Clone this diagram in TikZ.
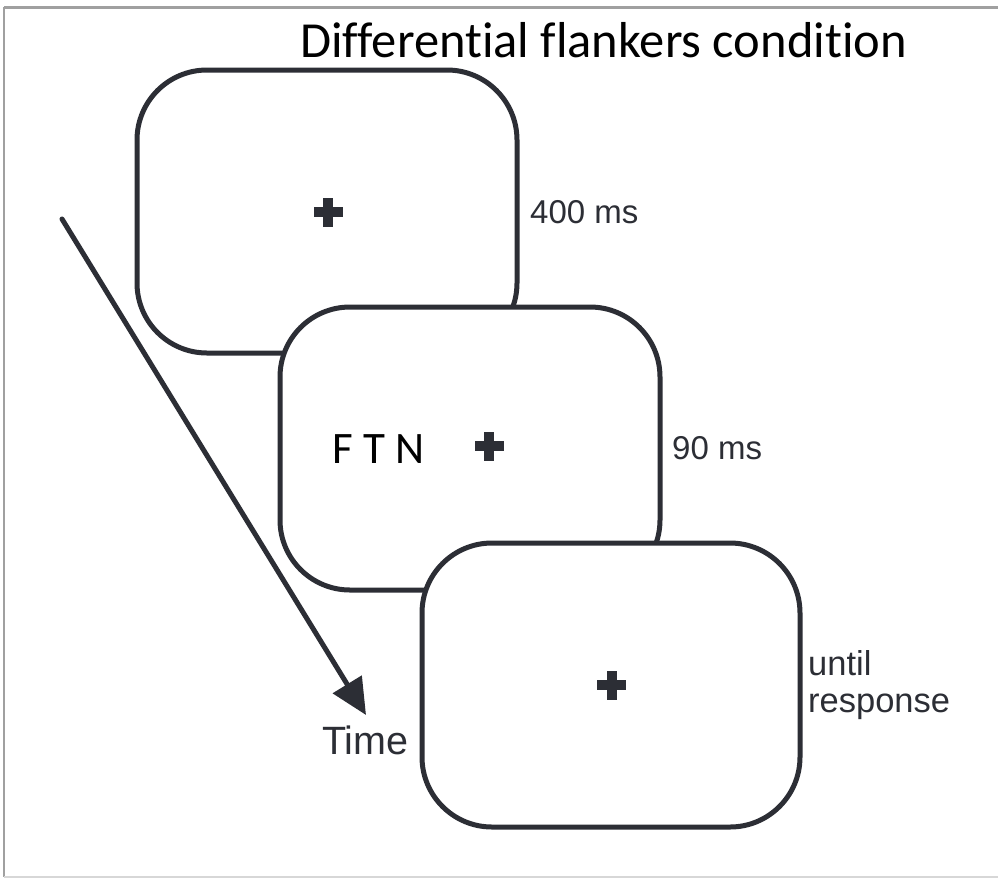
\documentclass[tikz,border=0pt]{standalone}
\usepackage{fontspec}
\setmainfont{Liberation Sans}
\newfontfamily\calfont[Ligatures={NoCommon}]{Carlito}
\usetikzlibrary{arrows.meta,calc}
\definecolor{ink}{RGB}{44,46,53}
\definecolor{framegray}{RGB}{160,160,160}
\definecolor{framelight}{RGB}{215,215,215}
\tikzset{
  screen/.style={draw=ink, line width=5pt, fill=white, rounded corners=70pt, inner sep=0pt, outer sep=0pt},
  lbl/.style={text=ink, inner sep=0pt, anchor=base west, font=\fontsize{33}{37}\selectfont},
  calibri/.style={text=black, inner sep=0pt, anchor=base west},
  fixcross/.style={fill=ink, draw=none}
}
\newcommand{\fixplus}[1]{%
  \fill[fixcross] ($(#1)+(-14.5,-5)$) rectangle ($(#1)+(14.5,5)$);
  \fill[fixcross] ($(#1)+(-5,-14.5)$) rectangle ($(#1)+(5,14.5)$);
}
\begin{document}
\begin{tikzpicture}[x=1pt,y=-1pt]
\useasboundingbox (0,0) rectangle (998,879);
\fill[white] (0,0) rectangle (998,879);
% frame
\draw[framegray, line width=3pt] (4,7) -- (998,7);
\draw[framegray, line width=2.5pt] (4,7) -- (4,877);
\draw[framelight, line width=2.5pt] (4,877) -- (998,877);
% title
\node[calibri, font=\calfont\fontsize{50.5}{56}\selectfont] (title) at (300,57) {Differential flankers condition};
% time arrow
\coordinate (tstart) at (62,219);
\coordinate (tend) at (366,715);
\draw[ink, line width=5pt, line cap=round, -{Triangle[length=36pt,width=33pt]}] (tstart) -- (tend);
% screens
\node[screen, minimum width=380pt, minimum height=283pt] (s1) at (327,211.5) {};
\coordinate (c1) at (328,212);
\fixplus{c1}
\node[screen, minimum width=380pt, minimum height=283pt] (s2) at (470,448.5) {};
\coordinate (c2) at (489,446);
\fixplus{c2}
\node[calibri, font=\calfont\fontsize{45}{50}\selectfont] (ftn) at (332,463) {F T N};
\node[screen, minimum width=378pt, minimum height=284pt] (s3) at (611,685) {};
\coordinate (c3) at (611.5,685);
\fixplus{c3}
% labels
\node[lbl] (l1) at (530,223) {400 ms};
\node[lbl] (l2) at (672,459) {90 ms};
\node[lbl, align=left, anchor=north west, font=\fontsize{34.5}{37}\selectfont] (l3) at (808,650) {until\\response};
\node[lbl, font=\fontsize{39.5}{42}\selectfont] (time) at (322,754) {Time};
\end{tikzpicture}
\end{document}
